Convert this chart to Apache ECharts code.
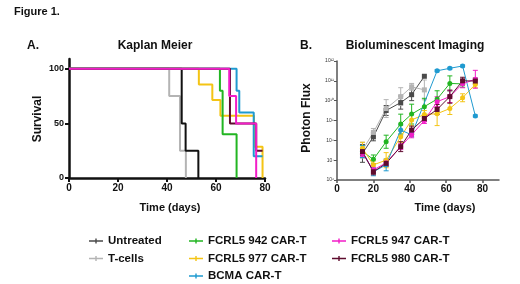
<!DOCTYPE html>
<html><head><meta charset="utf-8">
<script src="https://cdn.jsdelivr.net/npm/echarts@6/dist/echarts.min.js"></script>
<style>html,body{margin:0;padding:0;background:#fff}#c{width:520px;height:284px}</style>
</head><body><div id="c"></div>
<script>
// ---- Panel A: Kaplan Meier (day, survival %) ----
const kmUntreated = [[0,100],[46,50],[47.6,25],[52.8,0]];
const kmTcells    = [[0,100],[40.9,75],[45.3,25],[47.7,0]];
const km942       = [[0,100],[61.6,80],[62.7,40],[68.4,0]];
const km977       = [[0,100],[53,85.7],[58.5,71.4],[61.8,57.1],[75.5,28.6],[79,0]];
const kmBCMA      = [[0,100],[68.4,80],[69.5,60],[75.4,20],[79,20]];
const km980       = [[0,100],[65.7,75],[65.7,50],[76.4,25],[79,25]];
const km947       = [[0,100],[65.4,75],[68.2,50],[76.4,0]];
const kmXTicks = [0,20,40,60,80];
const kmYTicks = [0,50,100];

// ---- Panel B: Bioluminescent imaging (photon flux) ----
const bliDays = [14,20,27,35,41,48,55,62,69,76];
const bliUntreated = [2.2e7,1.5e8,3.2e9,8e9,2e10,1.7e11,null,null,null,null];
const bliTcells    = [3.2e7,2.5e8,4e9,1.6e10,5e10,3.5e10,null,null,null,null];
const bli942       = [2.7e7,1.1e7,8.5e7,6.6e8,2.1e9,5e9,1.2e10,7.4e10,7e10,null];
const bli977       = [4e7,5.8e6,1e7,1.5e8,1.07e9,2e9,2.2e9,4e9,1.4e10,6.6e10];
const bliBCMA      = [2.7e7,2.6e6,5.8e6,3.3e8,1.9e8,null,3.2e11,4.3e11,5.6e11,1.7e9];
const bli947       = [2.2e7,3.2e6,7.4e6,4.8e7,1.9e8,1e9,8.9e9,1.6e10,7.1e10,1.2e11];
const bli980       = [2.7e7,2.6e6,6.9e6,4.8e7,3.3e8,1.26e9,3.6e9,1.6e10,1e11,9.8e10];
// error bar half-widths, in decades
const errUntreated = [0.45,0.2,0.25,0.33,0.3,0,null,null,null,null];
const errTcells    = [0.4,0.2,0.45,0.45,0.17,0.5,null,null,null,null];
const err942       = [0.3,0.22,0.33,0.5,0.5,0.42,0.42,0.38,0.17,null];
const err977       = [0.3,0.2,0.38,0.3,0.3,0.2,0.6,0.3,0.2,0.17];
const errBCMA      = [0.3,0.2,0.3,0.25,0.1,null,0.05,0.05,0.05,0.05];
const err947       = [0.15,0.15,0.15,0.15,0.15,0.15,0.25,0.3,0.2,0.45];
const err980       = [0.15,0.15,0.15,0.25,0.2,0.15,0.25,0.33,0.18,0.15];
const bliXTicks = [0,20,40,60,80];

const colors = {
  'Untreated':'#4a4a4a','T-cells':'#b4b4b4','FCRL5 942 CAR-T':'#22b522','FCRL5 977 CAR-T':'#f4c414',
  'BCMA CAR-T':'#1f9ad0','FCRL5 947 CAR-T':'#f21ec8','FCRL5 980 CAR-T':'#5e0c2e'
};
const kmColors = Object.assign({}, colors, {'Untreated':'#111111'});
const kmData = {'T-cells':kmTcells,'Untreated':kmUntreated,'FCRL5 977 CAR-T':km977,'FCRL5 942 CAR-T':km942,
  'BCMA CAR-T':kmBCMA,'FCRL5 980 CAR-T':km980,'FCRL5 947 CAR-T':km947};
const bliData = {'Untreated':[bliUntreated,errUntreated,'rect'],'T-cells':[bliTcells,errTcells,'rect'],
  'FCRL5 942 CAR-T':[bli942,err942,'circle'],'FCRL5 977 CAR-T':[bli977,err977,'circle'],
  'BCMA CAR-T':[bliBCMA,errBCMA,'circle'],'FCRL5 947 CAR-T':[bli947,err947,'circle'],
  'FCRL5 980 CAR-T':[bli980,err980,'rect']};

const FONT = 'Liberation Sans, Arial, sans-serif';
const sup = {'0':'⁰','1':'¹','2':'²','3':'³','4':'⁴','5':'⁵','6':'⁶','7':'⁷','8':'⁸','9':'⁹'};

const series = [];
Object.keys(kmData).forEach(n => {
  series.push({name:n, type:'line', xAxisIndex:0, yAxisIndex:0, data:kmData[n], step:'end',
    showSymbol:false, symbol:'none', lineStyle:{width:2, color:kmColors[n]}, itemStyle:{color:kmColors[n]}, z:3});
});
Object.keys(bliData).forEach(n => {
  const [vals, errs, sym] = bliData[n];
  const pts = bliDays.map((d,i) => vals[i] == null ? null : [d, vals[i]]).filter(p => p);
  const eb = [];
  bliDays.forEach((d,i) => { if (vals[i] != null && errs[i]) eb.push([d, vals[i]/Math.pow(10,errs[i]), vals[i]*Math.pow(10,errs[i])]); });
  const c = colors[n];
  series.push({name:'err '+n, type:'custom', xAxisIndex:1, yAxisIndex:1, data:eb, z:2,
    renderItem:(params, api) => {
      const x = api.value(0);
      const a = api.coord([x, api.value(1)]), b = api.coord([x, api.value(2)]);
      const st = {stroke:c, lineWidth:1};
      return {type:'group', children:[
        {type:'line', shape:{x1:a[0],y1:a[1],x2:b[0],y2:b[1]}, style:st},
        {type:'line', shape:{x1:a[0]-2.5,y1:a[1],x2:a[0]+2.5,y2:a[1]}, style:st},
        {type:'line', shape:{x1:b[0]-2.5,y1:b[1],x2:b[0]+2.5,y2:b[1]}, style:st}
      ]};
    }});
  series.push({name:n, type:'line', xAxisIndex:1, yAxisIndex:1, data:pts, symbol:sym, symbolSize:5,
    lineStyle:{width:1, color:c}, itemStyle:{color:c}, z:3});
});

const icon = 'path://M0,4h20v2h-20z M9,1.5h2v7h-2z';
function leg(list, left) {
  return {orient:'vertical', left:left, top:235, padding:0, height:50, itemWidth:14, itemHeight:6, itemGap:5.5,
    textStyle:{fontFamily:FONT, fontWeight:'bold', fontSize:11.5, color:'#111'},
    data:list.map(n => ({name:n, icon:icon, itemStyle:{color:colors[n]}})), selectedMode:false};
}

const option = {
  animation:false,
  grid:[
    {left:69, top:59, width:196, height:119},
    {left:337, top:61, width:162, height:119}
  ],
  xAxis:[
    {type:'value', gridIndex:0, min:0, max:80,
      axisLine:{lineStyle:{color:'#111', width:2.5}}, axisTick:{length:4, lineStyle:{width:2, color:'#111'}, customValues:kmXTicks},
      axisLabel:{customValues:kmXTicks, fontFamily:FONT, fontWeight:'bold', fontSize:10, color:'#111', margin:5}, splitLine:{show:false}},
    {type:'value', gridIndex:1, min:0, max:89,
      axisLine:{lineStyle:{color:'#555', width:1.5}}, axisTick:{length:3, lineStyle:{width:1.5, color:'#555'}, customValues:bliXTicks},
      axisLabel:{customValues:bliXTicks, fontFamily:FONT, fontWeight:'bold', fontSize:10, color:'#111', margin:4}, splitLine:{show:false}}
  ],
  yAxis:[
    {type:'value', gridIndex:0, min:0, max:109,
      axisLine:{show:true, lineStyle:{color:'#111', width:2.5}}, axisTick:{show:true, length:4, lineStyle:{width:2, color:'#111'}, customValues:kmYTicks},
      axisLabel:{customValues:kmYTicks, fontFamily:FONT, fontWeight:'bold', fontSize:9, color:'#111', margin:5}, splitLine:{show:false}},
    {type:'log', gridIndex:1, logBase:10, min:1e6, max:1e12,
      axisLine:{show:true, lineStyle:{color:'#555', width:1.5}}, axisTick:{show:true, length:3, lineStyle:{width:1, color:'#555'}},
      minorTick:{show:false},
      axisLabel:{fontFamily:FONT, fontSize:5, color:'#333', margin:3,
        formatter:v => '10' + String(Math.round(Math.log10(v))).split('').map(ch => sup[ch]).join('')},
      splitLine:{show:false}}
  ],
  legend:[
    leg(['Untreated','T-cells'], 89),
    leg(['FCRL5 942 CAR-T','FCRL5 977 CAR-T','BCMA CAR-T'], 189),
    leg(['FCRL5 947 CAR-T','FCRL5 980 CAR-T'], 332)
  ],
  graphic:[
    {type:'text', x:14, y:6, style:{text:'Figure 1.', fontFamily:FONT, fontWeight:'bold', fontSize:11, fill:'#111'}},
    {type:'text', x:27, y:40, style:{text:'A.', fontFamily:FONT, fontWeight:'bold', fontSize:12, fill:'#111'}},
    {type:'text', x:300, y:40, style:{text:'B.', fontFamily:FONT, fontWeight:'bold', fontSize:12, fill:'#111'}},
    {type:'text', x:155, y:40, style:{text:'Kaplan Meier', fontFamily:FONT, fontWeight:'bold', fontSize:12, fill:'#111', textAlign:'center'}},
    {type:'text', x:415, y:40, style:{text:'Bioluminescent Imaging', fontFamily:FONT, fontWeight:'bold', fontSize:12, fill:'#111', textAlign:'center'}},
    {type:'text', x:38, y:119, rotation:Math.PI/2, style:{text:'Survival', fontFamily:FONT, fontWeight:'bold', fontSize:12, fill:'#111', textAlign:'center', textVerticalAlign:'middle'}},
    {type:'text', x:307, y:118, rotation:Math.PI/2, style:{text:'Photon Flux', fontFamily:FONT, fontWeight:'bold', fontSize:12, fill:'#111', textAlign:'center', textVerticalAlign:'middle'}},
    {type:'text', x:170, y:208, style:{text:'Time (days)', fontFamily:FONT, fontWeight:'bold', fontSize:11, fill:'#111', textAlign:'center', textVerticalAlign:'middle'}},
    {type:'text', x:445, y:208, style:{text:'Time (days)', fontFamily:FONT, fontWeight:'bold', fontSize:11, fill:'#111', textAlign:'center', textVerticalAlign:'middle'}}
  ],
  series:series
};
const chart = echarts.init(document.getElementById('c'), null, {renderer:'canvas'});
chart.setOption(option);
</script></body></html>
